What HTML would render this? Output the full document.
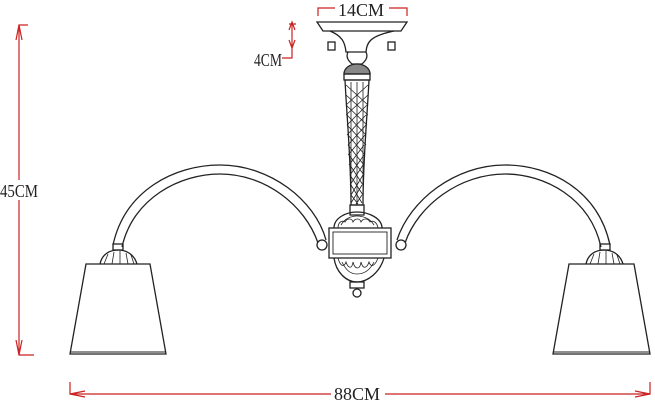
<!DOCTYPE html>
<html><head><style>html,body{margin:0;padding:0;background:#fff;}svg{display:block}</style></head><body>
<svg width="655" height="403" viewBox="0 0 655 403" xmlns="http://www.w3.org/2000/svg" font-family="Liberation Serif, serif">
<g fill="none" stroke="#cc2222" stroke-width="1.2">
<path d="M28 25 H19 V355 H34"/>
<path d="M16 340 L19 355 L22 340"/>
<path d="M16 40 L19 25 L22 40"/>
<path d="M70 382 V394 H650 V382"/>
<path d="M85 391 L70 394 L85 397"/>
<path d="M635 391 L650 394 L635 397"/>
<path d="M318 16 V8 H407 V16"/>
<path d="M292 22 V48 M282 58 H292 V48 M289 30 L292 22 L295 30 M289 40 L292 48 L295 40 M289 24 H296"/>
</g>
<rect x="0" y="180" width="40" height="20" fill="#fff"/>
<text x="0" y="197" font-size="18" fill="#222" textLength="38" lengthAdjust="spacingAndGlyphs">45CM</text>
<rect x="331" y="384" width="54" height="18" fill="#fff"/>
<text x="334" y="400" font-size="18" fill="#222" textLength="46" lengthAdjust="spacingAndGlyphs">88CM</text>
<rect x="335" y="0" width="54" height="17" fill="#fff"/>
<text x="338" y="16" font-size="18" fill="#222" textLength="46" lengthAdjust="spacingAndGlyphs">14CM</text>
<text x="254" y="66" font-size="18" fill="#222" textLength="28" lengthAdjust="spacingAndGlyphs">4CM</text>
<g fill="none" stroke="#222" stroke-width="1.3">
<path d="M317 22 H407 L401 31 H323 Z"/>
<path d="M330 31 C342 36 345 42 346 52 H366 C367 42 370 36 394 31"/>
<rect x="328" y="42" width="7" height="8"/><rect x="388" y="42" width="7" height="8"/>
<path d="M348 52 C345 58 350 62 352 64 H362 C364 62 369 58 366 52"/>
<path d="M344 74 C344 68 350 64 357 64 C364 64 370 68 370 74 Z" fill="#888"/>
<path d="M345 80 C347 120 351 160 351 205 H363 C363 160 367 120 369 80 Z"/>
<path d="M344 74 H370 V80 H344 Z"/>
<g stroke-width="0.8">
<path d="M346 85 L368 105 M346 95 L368 115 M346 105 L367 125 M347 115 L366 135 M347 125 L366 145 M348 135 L365 155 M348 145 L364 165 M349 155 L364 175 M350 165 L363 185 M350 175 L363 195 M351 185 L362 203 M351 195 L358 204"/>
<path d="M368 85 L346 105 M368 95 L346 115 M367 105 L347 125 M366 115 L347 135 M366 125 L348 145 M365 135 L348 155 M364 145 L349 165 M364 155 L350 175 M363 165 L350 185 M363 175 L351 195 M362 185 L351 203 M362 195 L356 204"/>
<path d="M351 82 V205 M357 82 V205 M363 82 V205"/>
</g>
<path d="M350 205 H364 V215 H350 Z"/>
<path d="M334 228 C334 218 346 212 357 212 C368 212 382 218 382 228"/>
<path d="M341 225 C345 218 352 216 357 216 C362 216 370 218 374 225" stroke-width="0.8"/>
<path d="M338 228 C338 222 342 220 345 222 C347 218 352 218 353 222 C355 218 360 218 361 222 C363 218 368 218 370 222 C373 220 377 222 378 228" stroke-width="0.8"/>
<rect x="329" y="228" width="62" height="30" fill="#fff"/>
<rect x="333" y="232" width="54" height="22" stroke-width="0.9" fill="#fff"/>
<path d="M334 258 C336 272 346 282 357 282 C368 282 380 272 384 258"/>
<path d="M342 262 C346 270 350 274 357 274 C364 274 370 270 374 262" stroke-width="0.8"/>
<path d="M338 258 C340 266 344 268 346 262 C348 268 352 270 353 262 C355 270 360 270 361 262 C363 270 367 268 369 262 C371 268 375 266 378 258" stroke-width="0.8"/>
<rect x="350" y="282" width="14" height="6"/>
<circle cx="357" cy="293" r="4"/>
<circle cx="322" cy="245" r="5"/><circle cx="401" cy="245" r="5"/>
<path d="M113 245 C125 190 175 165 220 165 C270 165 315 200 326 240"/>
<path d="M122 247 C133 198 180 174 220 174 C265 174 305 205 318 243"/>
<rect x="113" y="244" width="10" height="6"/>
<path d="M100 264 C102 254 110 250 118 250 C126 250 134 254 137 264" />
<path d="M104 264 L108 254 M112 264 L114 252 M120 264 L120 251 M128 264 L126 253 M134 264 L131 255" stroke-width="0.8"/>
<path d="M86 264 H150 L166 354 H70 Z"/>
<path d="M70 352 H166" stroke-width="1"/>
<path d="M397 240 C410 200 455 165 505 165 C550 165 598 190 610 245"/>
<path d="M405 243 C418 205 460 174 505 174 C545 174 590 198 601 247"/>
<rect x="600" y="244" width="10" height="6"/>
<path d="M586 264 C588 254 596 250 604 250 C612 250 620 254 623 264"/>
<path d="M590 264 L594 254 M598 264 L600 252 M606 264 L606 251 M614 264 L612 253 M620 264 L617 255" stroke-width="0.8"/>
<path d="M569 264 H634 L650 354 H553 Z"/>
<path d="M553 352 H650" stroke-width="1"/>
</g>
</svg>
</body></html>
